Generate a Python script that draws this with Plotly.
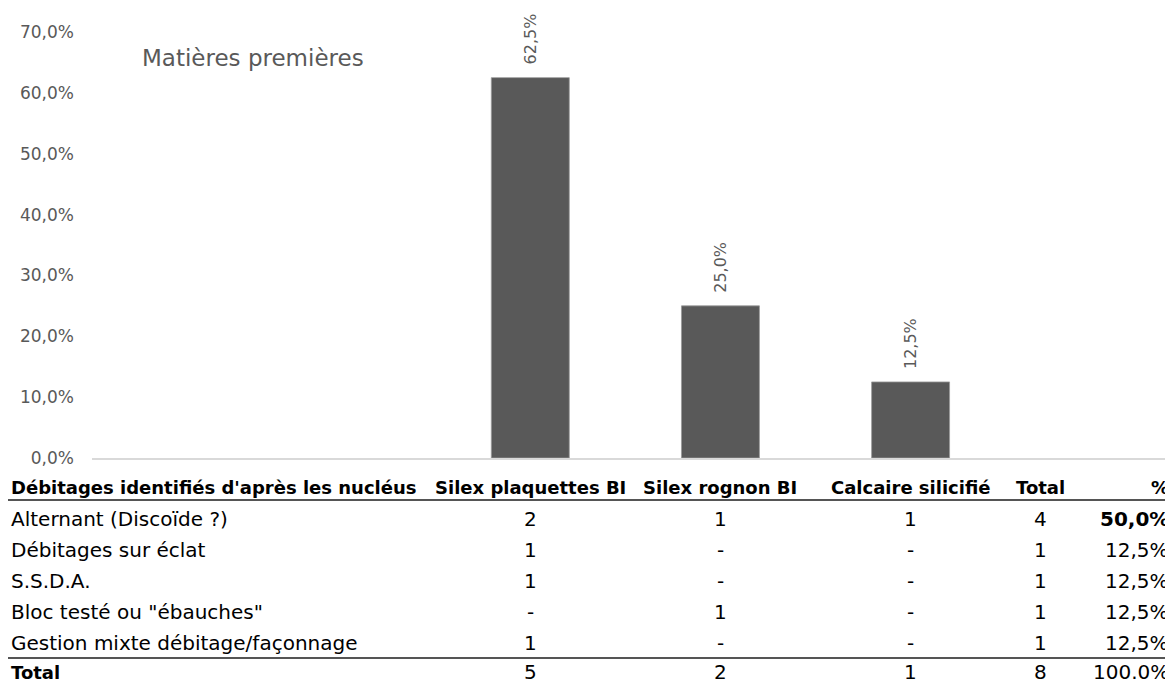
import plotly.graph_objects as go

# chart data
categories = ["Silex plaquettes BI", "Silex rognon BI", "Calcaire silicifié"]
shares = [0.625, 0.25, 0.125]

# table data
table_title = "Débitages identifiés d'après les nucléus"
row_labels = ["Alternant (Discoïde ?)", "Débitages sur éclat", "S.S.D.A.",
              "Bloc testé ou \"ébauches\"", "Gestion mixte débitage/façonnage"]
plaquettes = ["2", "1", "1", "-", "1"]
rognon = ["1", "-", "-", "1", "-"]
calcaire = ["1", "-", "-", "-", "-"]
row_totals = ["4", "1", "1", "1", "1"]
row_pct = ["50,0%", "12,5%", "12,5%", "12,5%", "12,5%"]
total_row = ["5", "2", "1", "8", "100.0%"]

# page has an 8px body margin, so the figure is shrunk by that much
OFF = 8
W, H = 1173, 686
L, T, B = 92, 32, 458
FONT = "DejaVu Sans"
GREY = "#595959"


def px(x):
    return (x - L) / (W - L)


def py(y):
    return (B - y) / (B - T)


fig = go.Figure()
fig.add_trace(go.Bar(
    x=categories, y=shares, width=0.41,
    marker=dict(color=GREY, line=dict(color="#9a9a9a", width=0.8)),
    showlegend=False, hoverinfo="x+y"))

ann = []
# value labels above the bars
for c, s in zip(categories, shares):
    ann.append(dict(x=c, y=s, xref="x", yref="y", text=f"{s * 100:.1f}%".replace(".", ","),
                    showarrow=False, textangle=-90, yanchor="bottom", yshift=11,
                    font=dict(family=FONT, size=16, color=GREY)))

# title
ann.append(dict(x=px(140), y=py(58), xref="paper", yref="paper", text="Matières premières",
                showarrow=False, xanchor="left", yanchor="middle",
                font=dict(family=FONT, size=23, color=GREY)))

row_y = [519, 550, 581, 612, 643]
head_y, total_y = 487, 672
tot_x, pct_x = 1040, 1170
bold = dict(family=FONT, size=18, color="#000000", weight="bold")
reg = dict(family=FONT, size=20, color="#000000")


def cell(x, y, text, anchor="center", font=reg, xref="paper"):
    ann.append(dict(x=x, y=py(y), xref=xref, yref="paper", text=text, showarrow=False,
                    xanchor=anchor, yanchor="middle", font=font, borderpad=0))


# header
cell(px(10), head_y, table_title, "left", bold)
for c in categories:
    cell(c, head_y, c, "center", bold, xref="x")
cell(px(tot_x), head_y, "Total", "center", bold)
cell(px(1160), head_y, "%", "center", bold)

# body
for i, y in enumerate(row_y):
    cell(px(10), y, row_labels[i], "left")
    for c, vals in zip(categories, [plaquettes, rognon, calcaire]):
        cell(c, y, vals[i], "center", xref="x")
    cell(px(tot_x), y, row_totals[i], "center")
    f = dict(reg, weight="bold") if i == 0 else reg
    cell(px(pct_x), y, row_pct[i], "right", f)

# total row
cell(px(10), total_y, "Total", "left", bold)
for c, v in zip(categories, total_row[:3]):
    cell(c, total_y, v, "center", xref="x")
cell(px(tot_x), total_y, total_row[3], "center")
cell(px(pct_x), total_y, total_row[4], "right")

shapes = []
for yl in [500, 658]:
    shapes.append(dict(type="line", xref="paper", yref="paper", x0=px(7), x1=px(W),
                       y0=py(yl), y1=py(yl), line=dict(color="#555555", width=2)))

fig.update_layout(
    width=W - OFF, height=H - OFF,
    margin=dict(l=L - OFF, r=0, t=T - OFF, b=H - B, pad=0),
    plot_bgcolor="white", paper_bgcolor="white",
    separators=", ",
    annotations=ann, shapes=shapes,
    xaxis=dict(range=[-2.305, 3.38], showticklabels=False, showgrid=False,
               showline=True, linecolor="#d9d9d9", linewidth=1.5, zeroline=False,
               fixedrange=True),
    yaxis=dict(range=[0, 0.70], dtick=0.10, tickformat=".1%", showgrid=False,
               zeroline=False, ticklabelstandoff=17, fixedrange=True,
               tickfont=dict(family=FONT, size=17, color=GREY)),
)

fig.write_html("out.html")
